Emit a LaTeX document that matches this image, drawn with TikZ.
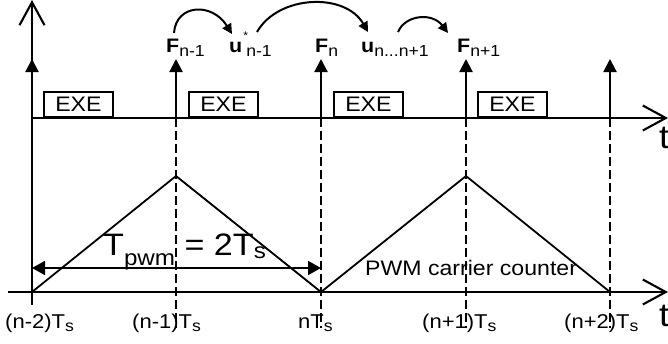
\documentclass[tikz,border=0pt]{standalone}
\usepackage{fontspec}
\setmainfont{Liberation Sans}[FakeStretch=1.1]
\usepackage{graphicx}
\usetikzlibrary{arrows.meta}
\newcommand\fsz[1]{\fontsize{#1}{#1}\selectfont}
\newcommand\lsub[3]{\raisebox{-#2}{\fsz{#1}#3}}
\begin{document}
\begin{tikzpicture}[x=1pt,y=-1pt,
  axis/.style={line width=2.1pt},
  carrier/.style={line width=1.8pt},
  dashline/.style={line width=1.8pt, dash pattern=on 9pt off 4pt},
  evt/.style={line width=2.1pt, -{Triangle[length=13pt,width=13pt]}},
  openarrow/.style={line width=2.1pt, -{Straight Barb[length=23pt,width=25pt]}},
  exebox/.style={draw, line width=1.8pt, minimum width=69pt, minimum height=25pt, inner sep=0pt, anchor=south west, font=\fsz{21}},
  lbl/.style={anchor=base west, inner sep=0pt, font=\fsz{20}},
  tlbl/.style={anchor=base west, inner sep=0pt, font=\fsz{33}},
  flbl/.style={anchor=base west, inner sep=0pt, font=\fsz{19.5}\bfseries},
  flow/.style={line width=2pt, -{Triangle[length=10pt,width=10pt]}},
  span/.style={line width=1.8pt, {Triangle[length=13pt,width=14pt]}-{Triangle[length=13pt,width=14pt]}}]
\useasboundingbox (0,0) rectangle (668,343);

% axes
\coordinate (Lbot) at (32,305);
\coordinate (Ltop) at (32,0);
\coordinate (A1) at (32,118);
\coordinate (A2) at (668,118);
\coordinate (B1) at (8,292);
\coordinate (B2) at (668,292);
\draw[openarrow] (Lbot) -- (Ltop);
\draw[openarrow] (A1) -- (A2);
\draw[openarrow] (B1) -- (B2);

% event arrows and dashed lines
\foreach \i/\x in {0/32,1/176,2/321,3/466,4/610}{
  \coordinate (E\i) at (\x,118);
  \coordinate (Et\i) at (\x,59);
  \coordinate (Ed\i) at (\x,328);
  \draw[evt] (E\i) -- (Et\i);
}
\foreach \i in {1,2,3,4}{ \draw[dashline] (E\i) -- (Ed\i); }

% EXE boxes
\node[exebox] (X1) at (43,118) {EXE};
\node[exebox] (X2) at (188,118) {EXE};
\node[exebox] (X3) at (333,118) {EXE};
\node[exebox] (X4) at (477,118) {EXE};

% carrier
\coordinate (C0) at (32,292);
\coordinate (C1) at (176,176);
\coordinate (C2) at (321,292);
\coordinate (C3) at (466,176);
\coordinate (C4) at (610,292);
\draw[carrier] (C0) -- (C1) -- (C2) -- (C3) -- (C4);

% Tpwm span
\coordinate (T1) at (32,268);
\coordinate (T2) at (321,268);
\draw[span] (T1) -- (T2);
\node[anchor=base west, inner sep=0pt, font=\fsz{31}] (TP) at (103,255) {T\lsub{22}{10pt}{pwm} = 2T\lsub{22}{3pt}{s}};
\node[anchor=base west, inner sep=0pt, font=\fsz{21}] (PC) at (365,275) {PWM carrier counter};

% time labels
\node[lbl] (tb0) at (5,328) {(n-2)T\lsub{16}{3pt}{s}};
\node[lbl] (tb1) at (132,328) {(n-1)T\lsub{16}{3pt}{s}};
\node[lbl] (tb2) at (298,328) {nT\lsub{16}{3pt}{s}};
\node[lbl] (tb3) at (422,328) {(n+1)T\lsub{16}{3pt}{s}};
\node[lbl] (tb4) at (564,328) {(n+2)T\lsub{16}{3pt}{s}};
\node[tlbl] (tt) at (659,148) {t};
\node[tlbl] (tbt) at (659,326) {t};

% top labels
\node[flbl] (F1) at (166,52) {F\lsub{16}{4pt}{\mdseries n-1}};
\node[flbl] (U1) at (229,52) {u\hspace{1pt}\rlap{\raisebox{13pt}{\fsz{11}\mdseries *}}\hspace{3pt}\lsub{16}{4pt}{\mdseries n-1}};
\node[flbl] (F2) at (315,52) {F\lsub{16}{4pt}{\mdseries n}};
\node[flbl] (U2) at (361,52) {u\lsub{16}{4pt}{\mdseries n...n+1}};
\node[flbl] (F3) at (457,52) {F\lsub{16}{4pt}{\mdseries n+1}};

% flow arcs
\coordinate (P1s) at (174,33);
\coordinate (P1e) at (232,34);
\coordinate (P2s) at (257,32);
\coordinate (P2e) at (368,32);
\coordinate (P3s) at (398,32);
\coordinate (P3e) at (448,33);
\draw[flow] (P1s) .. controls (176,4) and (212,2) .. (P1e);
\draw[flow] (P2s) .. controls (278,-5) and (345,-8) .. (P2e);
\draw[flow] (P3s) .. controls (405,15) and (432,12) .. (P3e);
\end{tikzpicture}
\end{document}
